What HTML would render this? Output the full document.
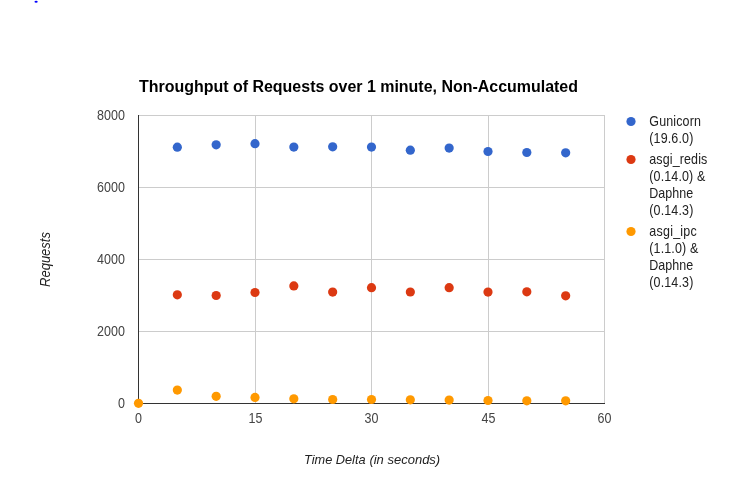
<!DOCTYPE html>
<html lang="en"><head><meta charset="utf-8"><title>Throughput of Requests over 1 minute, Non-Accumulated</title>
<style>html,body{margin:0;padding:0;background:#fff;overflow:hidden}svg{display:block}text{font-family:"Liberation Sans",Arial,sans-serif}</style></head>
<body>
<svg width="740" height="489" viewBox="0 0 740 489">
<rect width="740" height="489" fill="#ffffff"/>
<ellipse cx="36.1" cy="1.75" rx="1.6" ry="1.1" fill="#0000ff"/>
<text x="139" y="92" font-size="16" font-weight="bold" fill="#000000" textLength="439" lengthAdjust="spacingAndGlyphs">Throughput of Requests over 1 minute, Non-Accumulated</text>
<g fill="#cccccc">
<rect x="255" y="115" width="1" height="288"/>
<rect x="371" y="115" width="1" height="288"/>
<rect x="488" y="115" width="1" height="288"/>
<rect x="604" y="115" width="1" height="288"/>
<rect x="138" y="331" width="467" height="1"/>
<rect x="138" y="259" width="467" height="1"/>
<rect x="138" y="187" width="467" height="1"/>
<rect x="138" y="115" width="467" height="1"/>
</g>
<g fill="#333333">
<rect x="138" y="115" width="1" height="289"/>
<rect x="138" y="403" width="467" height="1"/>
</g>
<g fill="#3366cc">
<circle cx="177.33" cy="147.2" r="4.6"/>
<circle cx="216.17" cy="144.8" r="4.6"/>
<circle cx="255.0" cy="143.7" r="4.6"/>
<circle cx="293.83" cy="147.1" r="4.6"/>
<circle cx="332.67" cy="146.8" r="4.6"/>
<circle cx="371.5" cy="147.1" r="4.6"/>
<circle cx="410.33" cy="150.2" r="4.6"/>
<circle cx="449.17" cy="148.1" r="4.6"/>
<circle cx="488.0" cy="151.5" r="4.6"/>
<circle cx="526.83" cy="152.5" r="4.6"/>
<circle cx="565.67" cy="152.8" r="4.6"/>
</g>
<g fill="#dc3912">
<circle cx="177.33" cy="294.8" r="4.6"/>
<circle cx="216.17" cy="295.5" r="4.6"/>
<circle cx="255.0" cy="292.5" r="4.6"/>
<circle cx="293.83" cy="285.9" r="4.6"/>
<circle cx="332.67" cy="292.1" r="4.6"/>
<circle cx="371.5" cy="287.7" r="4.6"/>
<circle cx="410.33" cy="292.0" r="4.6"/>
<circle cx="449.17" cy="287.7" r="4.6"/>
<circle cx="488.0" cy="292.1" r="4.6"/>
<circle cx="526.83" cy="291.8" r="4.6"/>
<circle cx="565.67" cy="295.8" r="4.6"/>
</g>
<g fill="#ff9900">
<circle cx="138.5" cy="403.3" r="4.6"/>
<circle cx="177.33" cy="390.1" r="4.6"/>
<circle cx="216.17" cy="396.3" r="4.6"/>
<circle cx="255.0" cy="397.4" r="4.6"/>
<circle cx="293.83" cy="398.8" r="4.6"/>
<circle cx="332.67" cy="399.5" r="4.6"/>
<circle cx="371.5" cy="399.5" r="4.6"/>
<circle cx="410.33" cy="399.8" r="4.6"/>
<circle cx="449.17" cy="400.1" r="4.6"/>
<circle cx="488.0" cy="400.5" r="4.6"/>
<circle cx="526.83" cy="400.8" r="4.6"/>
<circle cx="565.67" cy="400.8" r="4.6"/>
</g>
<g font-size="14.2" fill="#444444">
<text transform="translate(135.0 422.6) scale(0.88 1)" textLength="7.95" lengthAdjust="spacing">0</text>
<text transform="translate(248.5 422.6) scale(0.88 1)" textLength="15.91" lengthAdjust="spacing">15</text>
<text transform="translate(364.5 422.6) scale(0.88 1)" textLength="15.91" lengthAdjust="spacing">30</text>
<text transform="translate(481.5 422.6) scale(0.88 1)" textLength="15.91" lengthAdjust="spacing">45</text>
<text transform="translate(597.5 422.6) scale(0.88 1)" textLength="15.91" lengthAdjust="spacing">60</text>
<text transform="translate(118 408.0) scale(0.88 1)" textLength="7.95" lengthAdjust="spacing">0</text>
<text transform="translate(97 336.0) scale(0.88 1)" textLength="31.82" lengthAdjust="spacing">2000</text>
<text transform="translate(97 264.0) scale(0.88 1)" textLength="31.82" lengthAdjust="spacing">4000</text>
<text transform="translate(97 192.0) scale(0.88 1)" textLength="31.82" lengthAdjust="spacing">6000</text>
<text transform="translate(97 120.0) scale(0.88 1)" textLength="31.82" lengthAdjust="spacing">8000</text>
</g>
<text y="463.7" font-size="13" font-style="italic" fill="#222222"><tspan x="304" textLength="61.6" lengthAdjust="spacingAndGlyphs">Time Delta</tspan> <tspan x="369.4" textLength="70.8" lengthAdjust="spacingAndGlyphs">(in seconds)</tspan></text>
<text transform="translate(50 287.0) rotate(-90)" font-size="14.5" font-style="italic" fill="#222222" textLength="55" lengthAdjust="spacingAndGlyphs">Requests</text>
<g font-size="14.2" fill="#222222">
<circle cx="631" cy="121.5" r="4.6" fill="#3366cc"/>
<text transform="translate(649.3 126.3) scale(0.88 1)" textLength="58.64" lengthAdjust="spacing">Gunicorn</text>
<text transform="translate(649.3 143.3) scale(0.88 1)" textLength="50.0" lengthAdjust="spacing">(19.6.0)</text>
<circle cx="631" cy="159.5" r="4.6" fill="#dc3912"/>
<text transform="translate(649.3 164.3) scale(0.88 1)" textLength="65.91" lengthAdjust="spacing">asgi_redis</text>
<text transform="translate(649.3 181.3) scale(0.88 1)" textLength="63.64" lengthAdjust="spacing">(0.14.0) &amp;</text>
<text transform="translate(649.3 198.3) scale(0.88 1)" textLength="50.0" lengthAdjust="spacing">Daphne</text>
<text transform="translate(649.3 215.3) scale(0.88 1)" textLength="50.0" lengthAdjust="spacing">(0.14.3)</text>
<circle cx="631" cy="231.5" r="4.6" fill="#ff9900"/>
<text transform="translate(649.3 236.3) scale(0.88 1)" textLength="53.98" lengthAdjust="spacing">asgi_ipc</text>
<text transform="translate(649.3 253.3) scale(0.88 1)" textLength="55.68" lengthAdjust="spacing">(1.1.0) &amp;</text>
<text transform="translate(649.3 270.3) scale(0.88 1)" textLength="50.0" lengthAdjust="spacing">Daphne</text>
<text transform="translate(649.3 287.3) scale(0.88 1)" textLength="50.0" lengthAdjust="spacing">(0.14.3)</text>
</g>
</svg>
</body></html>
